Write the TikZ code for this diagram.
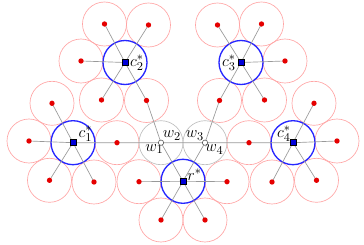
\documentclass[tikz,border=0pt]{standalone}
\usetikzlibrary{backgrounds}
\begin{document}
\begin{tikzpicture}[x=0.75pt,y=-0.75pt,
  reddot/.style={circle,fill=red!90!black,draw=none,inner sep=0pt,minimum size=4pt},
  ctr/.style={rectangle,fill=blue!85!black,draw=black,line width=0.4pt,inner sep=0pt,minimum size=4.6pt},
  wdot/.style={circle,fill=white,draw=black!70,line width=0.4pt,inner sep=0pt,minimum size=4pt},
  rcirc/.style={draw=red!35,line width=0.5pt},
  bcirc/.style={draw=blue!85,line width=1pt},
  gcirc/.style={draw=black!25,line width=0.5pt},
  spoke/.style={draw=black!40,line width=0.5pt},
  lab/.style={inner sep=0pt,font=\fontsize{12.5}{15}\selectfont}]
\useasboundingbox (0,0) rectangle (364,245);
% centres
\node[ctr] (c1) at (73,142.7) {};
\node[ctr] (c2) at (125,62.5) {};
\node[ctr] (c3) at (241,62.5) {};
\node[ctr] (c4) at (293,142.7) {};
\node[ctr] (r) at (183,181.3) {};
% w points
\node[wdot] (w1) at (161,142.7) {};
\node[wdot] (w3) at (205,142.7) {};
% cluster c2
\node[reddot] (p21) at (81,61) {};
\node[reddot] (p22) at (104.5,24) {};
\node[reddot] (p23) at (148.5,25) {};
\node[reddot] (p24) at (101.5,100) {};
\node[reddot] (p25) at (146.5,100.5) {};
% cluster c3
\node[reddot] (p31) at (285,61) {};
\node[reddot] (p32) at (261.5,24) {};
\node[reddot] (p33) at (217.5,25) {};
\node[reddot] (p34) at (264.5,100) {};
\node[reddot] (p35) at (219.5,100.5) {};
% cluster c1
\node[reddot] (p11) at (29,141) {};
\node[reddot] (p12) at (117,142.7) {};
\node[reddot] (p13) at (52,103.3) {};
\node[reddot] (p14) at (49.5,180.3) {};
\node[reddot] (p15) at (94,182) {};
% cluster c4
\node[reddot] (p41) at (337,141) {};
\node[reddot] (p42) at (249,142.7) {};
\node[reddot] (p43) at (314,103.3) {};
\node[reddot] (p44) at (316.5,180.3) {};
\node[reddot] (p45) at (272,182) {};
% cluster r
\node[reddot] (q1) at (139,181.7) {};
\node[reddot] (q2) at (227,181.7) {};
\node[reddot] (q3) at (161,220) {};
\node[reddot] (q4) at (205,220) {};
% labels
\node[lab] (l1) at (85.5,134) {$c_1^*$};
\node[lab] (l2) at (137,62.5) {$c_2^*$};
\node[lab] (l3) at (229,62.5) {$c_3^*$};
\node[lab] (l4) at (284,134) {$c_4^*$};
\node[lab] (lr) at (194.5,175) {$r^*$};
\node[lab] (lw1) at (154.5,149) {$w_1$};
\node[lab] (lw2) at (172,135.5) {$w_2$};
\node[lab] (lw3) at (195,135.5) {$w_3$};
\node[lab] (lw4) at (214.5,149.5) {$w_4$};
\begin{pgfonlayer}{background}
  \foreach \p in {p21,p22,p23,p24,p25,p31,p32,p33,p34,p35,p11,p12,p13,p14,p15,p41,p42,p43,p44,p45,q1,q2,q3,q4}
    \draw[rcirc] (\p.center) circle[radius=16.5pt];
  \foreach \p in {w1,w3}
    \draw[gcirc] (\p.center) circle[radius=16.5pt];
  \foreach \p in {c1,c2,c3,c4,r}
    \draw[bcirc] (\p.center) circle[radius=16.5pt];
  % horizontal line
  \draw[spoke] (p11.center) -- (c1.center) -- (p12.center) -- (w1.center) -- (w3.center) -- (p42.center) -- (c4.center) -- (p41.center);
  % c1 spokes
  \foreach \p in {p13,p14,p15} \draw[spoke] (c1.center) -- (\p.center);
  % c4 spokes
  \foreach \p in {p43,p44,p45} \draw[spoke] (c4.center) -- (\p.center);
  % c2 spokes
  \foreach \p in {p21,p22,p23,p24} \draw[spoke] (c2.center) -- (\p.center);
  \draw[spoke] (c2.center) -- (p25.center) -- (w1.center);
  % c3 spokes
  \foreach \p in {p31,p32,p33,p34} \draw[spoke] (c3.center) -- (\p.center);
  \draw[spoke] (c3.center) -- (p35.center) -- (w3.center);
  % r spokes
  \foreach \p in {q1,q2,q3,q4,w1,w3} \draw[spoke] (r.center) -- (\p.center);
\end{pgfonlayer}
\end{tikzpicture}
\end{document}
